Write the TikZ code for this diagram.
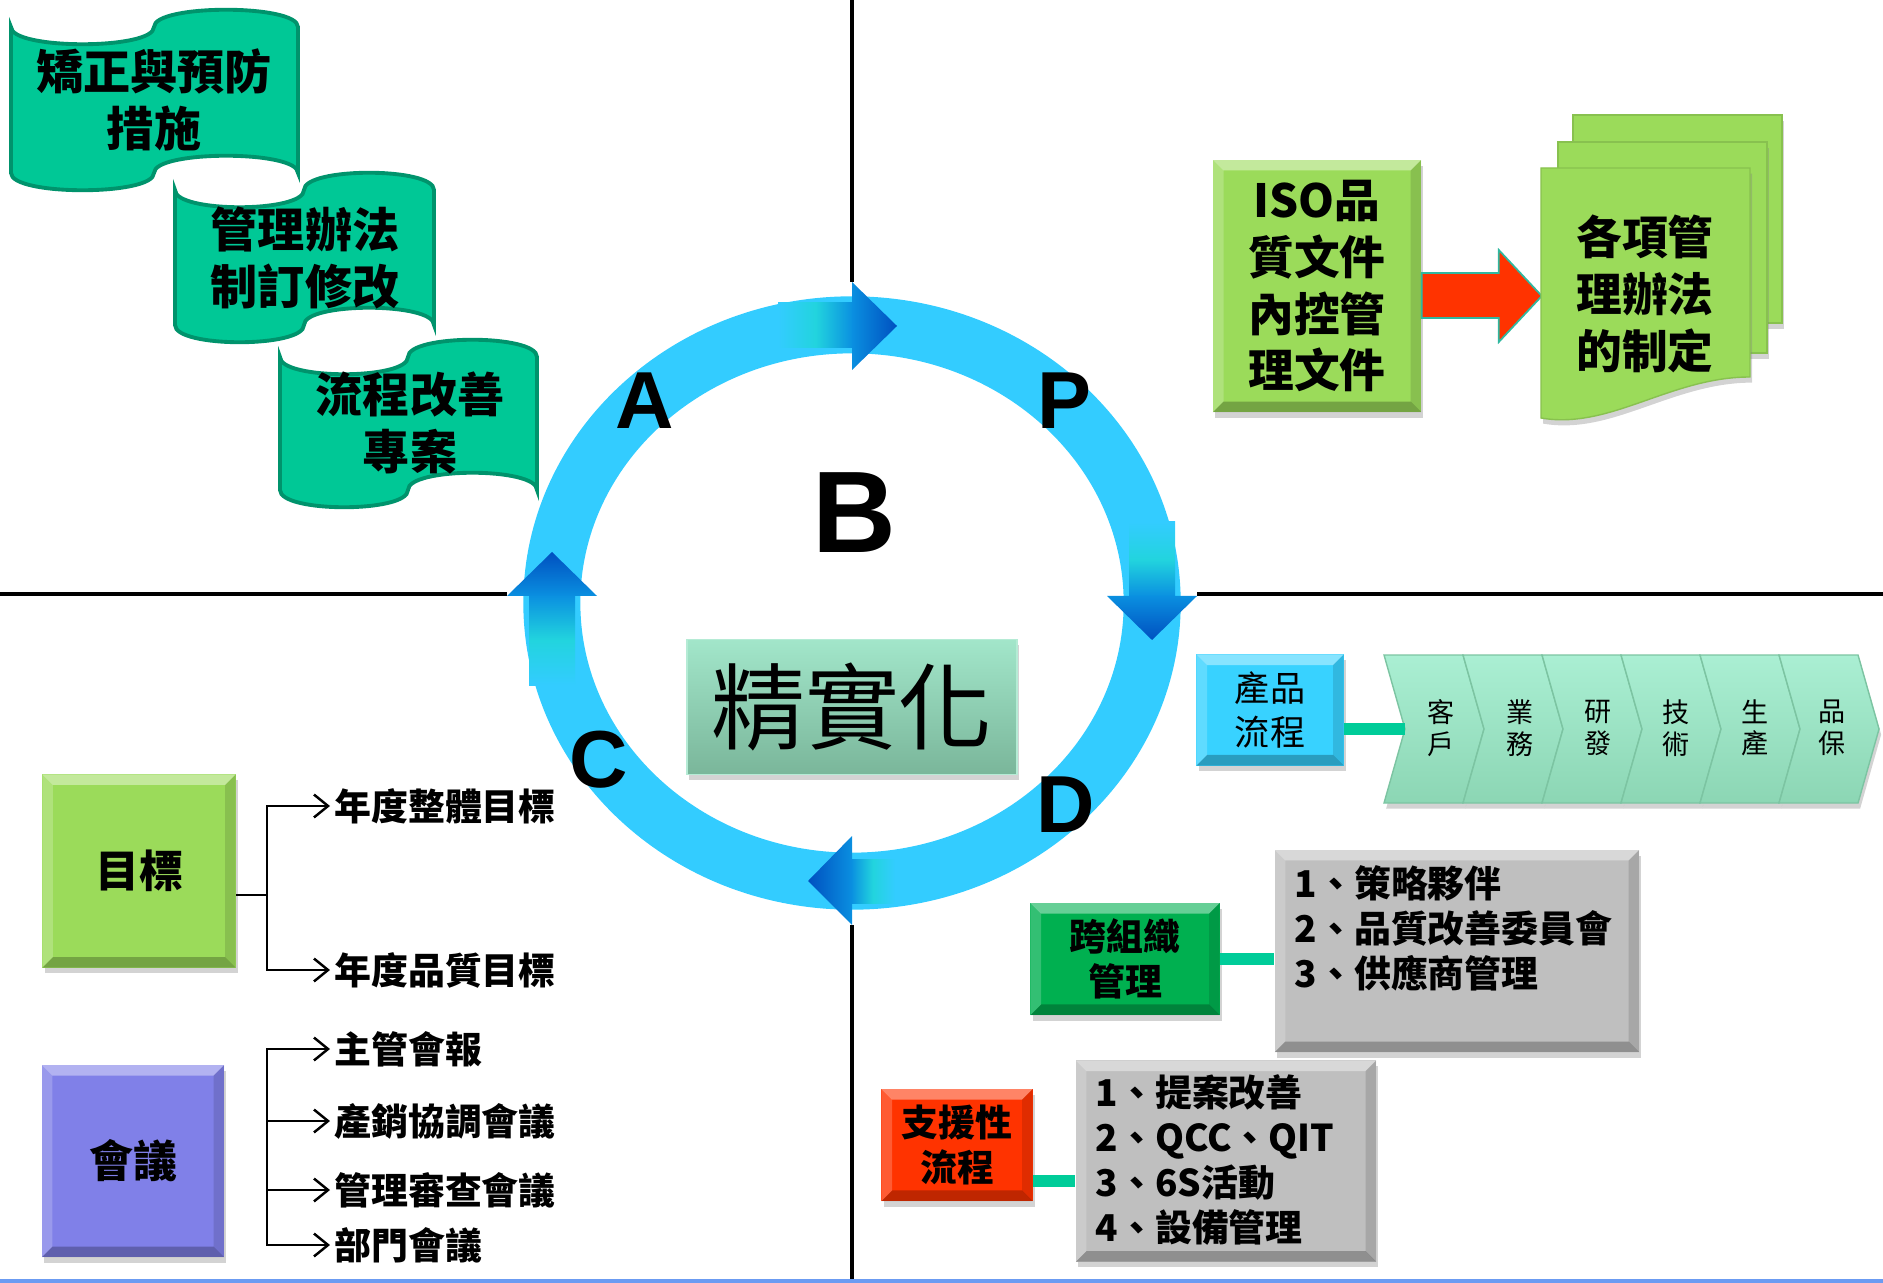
\documentclass[tikz,border=0pt]{standalone}
\usepackage{fontspec}
\setmainfont{Noto Sans CJK TC}
\newfontfamily\latin{Liberation Sans}
\usetikzlibrary{arrows.meta,shadows}

\definecolor{bannergreen}{HTML}{00C896}
\definecolor{bannerline}{HTML}{00936C}
\definecolor{leafgreen}{HTML}{9BDB5A}
\definecolor{meetviolet}{HTML}{8080E8}
\definecolor{skyblue}{HTML}{38D2FF}
\definecolor{minttop}{HTML}{AAEFD3}
\definecolor{mintbottom}{HTML}{8CD6B4}
\definecolor{mintedge}{HTML}{7CC4A2}
\definecolor{crossgreen}{HTML}{00B050}
\definecolor{supportred}{HTML}{FF3300}
\definecolor{graybox}{HTML}{BFBFBF}
\definecolor{linkteal}{HTML}{00CC99}
\definecolor{ringblue}{HTML}{33CCFF}
\definecolor{ringcyan}{HTML}{22D4DE}
\definecolor{arrowblue}{HTML}{0A8FE0}
\definecolor{deepblue}{HTML}{0050C0}
\definecolor{arrowred}{HTML}{FF3300}
\definecolor{arrowedge}{HTML}{30B8A0}
\definecolor{jingtop}{HTML}{A2E6CA}
\definecolor{jingbottom}{HTML}{7AB69A}
\definecolor{bottomblue}{HTML}{6B9BF2}

\begin{document}
\begin{tikzpicture}[x=0.01cm,y=-0.01cm,
  bevel edge/.style={path picture={
    \fill[white,opacity=.4] (path picture bounding box.north west) -- (path picture bounding box.north east) -- ([xshift=-3pt,yshift=-3pt]path picture bounding box.north east) -- ([xshift=3pt,yshift=-3pt]path picture bounding box.north west) -- cycle;
    \fill[white,opacity=.2] (path picture bounding box.north west) -- ([xshift=3pt,yshift=-3pt]path picture bounding box.north west) -- ([xshift=3pt,yshift=3pt]path picture bounding box.south west) -- (path picture bounding box.south west) -- cycle;
    \fill[black,opacity=.12] (path picture bounding box.north east) -- ([xshift=-3pt,yshift=-3pt]path picture bounding box.north east) -- ([xshift=-3pt,yshift=3pt]path picture bounding box.south east) -- (path picture bounding box.south east) -- cycle;
    \fill[black,opacity=.25] (path picture bounding box.south west) -- ([xshift=3pt,yshift=3pt]path picture bounding box.south west) -- ([xshift=-3pt,yshift=3pt]path picture bounding box.south east) -- (path picture bounding box.south east) -- cycle;}},
  soft shadow/.style={drop shadow={opacity=.35,shadow xshift=.6pt,shadow yshift=-1.6pt}},
  box node/.style={rectangle,inner sep=0pt,align=center,soft shadow,bevel edge},
  banner/.style={fill=bannergreen,draw=bannerline,line width=1.1pt},
  banner text/.style={align=center,font={\fontsize{13.4}{16.2}\selectfont\bfseries}},
  chevron/.style={top color=minttop,bottom color=mintbottom,draw=mintedge,line width=.4pt,soft shadow},
  chevron text/.style={align=center,font={\fontsize{7.7}{9}\selectfont}},
  tree line/.style={draw=black,line width=.7pt},
  tree arrow/.style={tree line,-{Straight Barb[length=4pt,width=6.5pt]}},
  tree text/.style={anchor=west,inner sep=1pt,font={\fontsize{10.5}{12.8}\selectfont\bfseries}},
  list text/.style={anchor=west,inner sep=0pt,align=left,font={\fontsize{10.5}{12.8}\selectfont\bfseries}},
  link bar/.style={draw=linkteal,line width=3.4pt},
  cross line/.style={draw=black,line width=1pt},
  letter node/.style={font={\latin\fontsize{23}{26}\selectfont\bfseries}}]
  \useasboundingbox (0,0) rectangle (1883,1283);

  % quarter lines
  \draw[cross line] (0,594) -- (507,594);
  \draw[cross line] (1197,594) -- (1883,594);
  \draw[cross line] (852,0) -- (852,282);
  \draw[cross line] (852,925) -- (852,1283);

  % A: banners
  \path[banner] (11,27) .. controls (11,50) and (154,50) .. (154,27) .. controls (154,4) and (298,4) .. (298,27) -- (298,173) .. controls (298,150) and (154,150) .. (154,173) .. controls (154,196) and (11,196) .. (11,173) -- cycle;
  \path[banner] (175,190) .. controls (175,213) and (304,213) .. (304,190) .. controls (304,167) and (434,167) .. (434,190) -- (434,325) .. controls (434,302) and (304,302) .. (304,325) .. controls (304,348) and (175,348) .. (175,325) -- cycle;
  \path[banner] (280,357) .. controls (280,380) and (408,380) .. (408,357) .. controls (408,334) and (537,334) .. (537,357) -- (537,490) .. controls (537,467) and (408,467) .. (408,490) .. controls (408,513) and (280,513) .. (280,490) -- cycle;
  \node[banner text] (25) at (154,100) {矯正與預防\\措施};
  \node[banner text] (26) at (305,258) {管理辦法\\制訂修改};
  \node[banner text] (27) at (410,423) {流程改善\\專案};

  % P: documents
  \node[box node,fill=leafgreen,minimum width=2.08cm,minimum height=2.52cm,font={\fontsize{13}{16.2}\selectfont\bfseries}] (1) at (1317,286) {ISO品\\質文件\\內控管\\理文件};
  \path[fill=arrowred,draw=arrowedge,line width=.5pt] (1.east |- 0,273) -- ++(77,0) -- ++(0,-23) -- ++(43,46) -- ++(-43,46) -- ++(0,-24) -- ++(-77,0) -- cycle;
  \path[fill=leafgreen,draw=leafgreen!88!black,line width=.4pt,soft shadow] (1573,115) rectangle (1782,323);
  \path[fill=leafgreen,draw=leafgreen!88!black,line width=.4pt,soft shadow] (1558,142) rectangle (1767,353);
  \path[fill=leafgreen,draw=leafgreen!88!black,line width=.4pt,soft shadow] (1541,168) -- (1750,168) -- (1750,377) .. controls (1670,377) and (1610,430) .. (1541,418) -- cycle;
  \node[align=center,font={\fontsize{13}{16.2}\selectfont\bfseries}] (2) at (1645,294) {各項管\\理辦法\\的制定};

  % cycle
  \draw[ringblue,line width=0.57cm] (852,603) ellipse [x radius=3cm,y radius=2.78cm];
  \shade[left color=ringblue,right color=arrowblue,middle color=ringcyan] (778,303) rectangle (853,348);
  \shade[left color=arrowblue,right color=deepblue] (852,282) -- (897,326) -- (852,370) -- cycle;
  \shade[top color=ringblue,bottom color=arrowblue,middle color=ringcyan] (1129,522) rectangle (1175,597);
  \shade[top color=arrowblue,bottom color=deepblue] (1107,596) -- (1197,596) -- (1152,640) -- cycle;
  \shade[bottom color=ringblue,top color=arrowblue,middle color=ringcyan] (529,595) rectangle (575,685);
  \shade[bottom color=arrowblue,top color=deepblue] (507,596) -- (597,596) -- (552,552) -- cycle;
  \shade[right color=ringblue,left color=arrowblue,middle color=ringcyan] (851,859) rectangle (895,903);
  \shade[right color=arrowblue,left color=deepblue] (852,836) -- (852,925) -- (808,881) -- cycle;
  \node[letter node] (28) at (645,401) {A};
  \node[letter node] (29) at (1064,401) {P};
  \node[font={\latin\fontsize{33}{36}\selectfont\bfseries}] (30) at (854,513) {B};
  \node[letter node] (31) at (599,760) {C};
  \node[letter node] (32) at (1066,805) {D};
  \node[rectangle,inner sep=0pt,top color=jingtop,bottom color=jingbottom,draw=jingtop!80!white,line width=.4pt,soft shadow,minimum width=3.3cm,minimum height=1.35cm,font={\fontsize{26.7}{30}\selectfont}] (3) at (852,707) {精實化};

  % C: goals and meetings
  \node[box node,fill=leafgreen,minimum width=1.93cm,minimum height=1.93cm,font={\fontsize{12.5}{15}\selectfont\bfseries}] (4) at (139,871) {目標};
  \node[tree text] (5) at (330,806) {年度整體目標};
  \node[tree text] (6) at (330,970) {年度品質目標};
  \node[box node,fill=meetviolet,minimum width=1.82cm,minimum height=1.92cm,font={\fontsize{12.5}{15}\selectfont\bfseries}] (7) at (133,1161) {會議};
  \node[tree text] (8) at (330,1049) {主管會報};
  \node[tree text] (9) at (330,1121) {產銷協調會議};
  \node[tree text] (10) at (330,1190) {管理審查會議};
  \node[tree text] (11) at (330,1245) {部門會議};
  \coordinate (f1) at (267,895);
  \coordinate (f2) at (267,1147);
  \draw[tree line] (4.east |- f1) -- (f1);
  \draw[tree arrow] (f1) |- (5.west);
  \draw[tree arrow] (f1) |- (6.west);
  \draw[tree arrow] (f2) |- (8.west);
  \draw[tree arrow] (f2) |- (9.west);
  \draw[tree arrow] (f2) |- (10.west);
  \draw[tree arrow] (f2) |- (11.west);

  % D: processes
  \node[box node,fill=skyblue,minimum width=1.47cm,minimum height=1.11cm,font={\fontsize{10}{12.5}\selectfont}] (12) at (1270,710) {產品\\流程};
  \path[chevron] (1384,655) -- (1463,655) -- (1484,729) -- (1463,803) -- (1384,803) -- (1405,729) -- cycle;
  \path[chevron] (1463,655) -- (1542,655) -- (1563,729) -- (1542,803) -- (1463,803) -- (1484,729) -- cycle;
  \path[chevron] (1542,655) -- (1621,655) -- (1642,729) -- (1621,803) -- (1542,803) -- (1563,729) -- cycle;
  \path[chevron] (1621,655) -- (1700,655) -- (1721,729) -- (1700,803) -- (1621,803) -- (1642,729) -- cycle;
  \path[chevron] (1700,655) -- (1779,655) -- (1800,729) -- (1779,803) -- (1700,803) -- (1721,729) -- cycle;
  \path[chevron] (1779,655) -- (1858,655) -- (1879,729) -- (1858,803) -- (1779,803) -- (1800,729) -- cycle;
  \node[chevron text] (13) at (1441,728) {客\\戶};
  \node[chevron text] (14) at (1520,728) {業\\務};
  \node[chevron text] (15) at (1598,728) {研\\發};
  \node[chevron text] (16) at (1676,728) {技\\術};
  \node[chevron text] (17) at (1755,728) {生\\產};
  \node[chevron text] (18) at (1832,728) {品\\保};
  \coordinate (n1) at (1405,729);
  \draw[link bar] (12.east |- n1) -- (n1);

  \node[box node,fill=crossgreen,minimum width=1.89cm,minimum height=1.12cm,font={\fontsize{10.5}{12.8}\selectfont\bfseries}] (19) at (1125,959) {跨組織\\管理};
  \node[box node,fill=graybox,minimum width=3.64cm,minimum height=2.02cm] (20) at (1457,951) {};
  \node[list text] (21) at (1294,928) {1、策略夥伴\\2、品質改善委員會\\3、供應商管理};
  \draw[link bar] (19.east) -- (19.east -| 20.west);

  \node[box node,fill=supportred,minimum width=1.51cm,minimum height=1.12cm,font={\fontsize{10.5}{12.8}\selectfont\bfseries}] (22) at (957,1145) {支援性\\流程};
  \node[box node,fill=graybox,minimum width=3cm,minimum height=2.01cm] (23) at (1226,1161) {};
  \node[list text] (24) at (1095,1160) {1、提案改善\\2、QCC、QIT\\3、6S活動\\4、設備管理};
  \draw[link bar] (22.east |- 0,1181) -- (23.west |- 0,1181);

  \draw[bottomblue,line width=1.2pt] (0,1281) -- (1883,1281);
\end{tikzpicture}
\end{document}
